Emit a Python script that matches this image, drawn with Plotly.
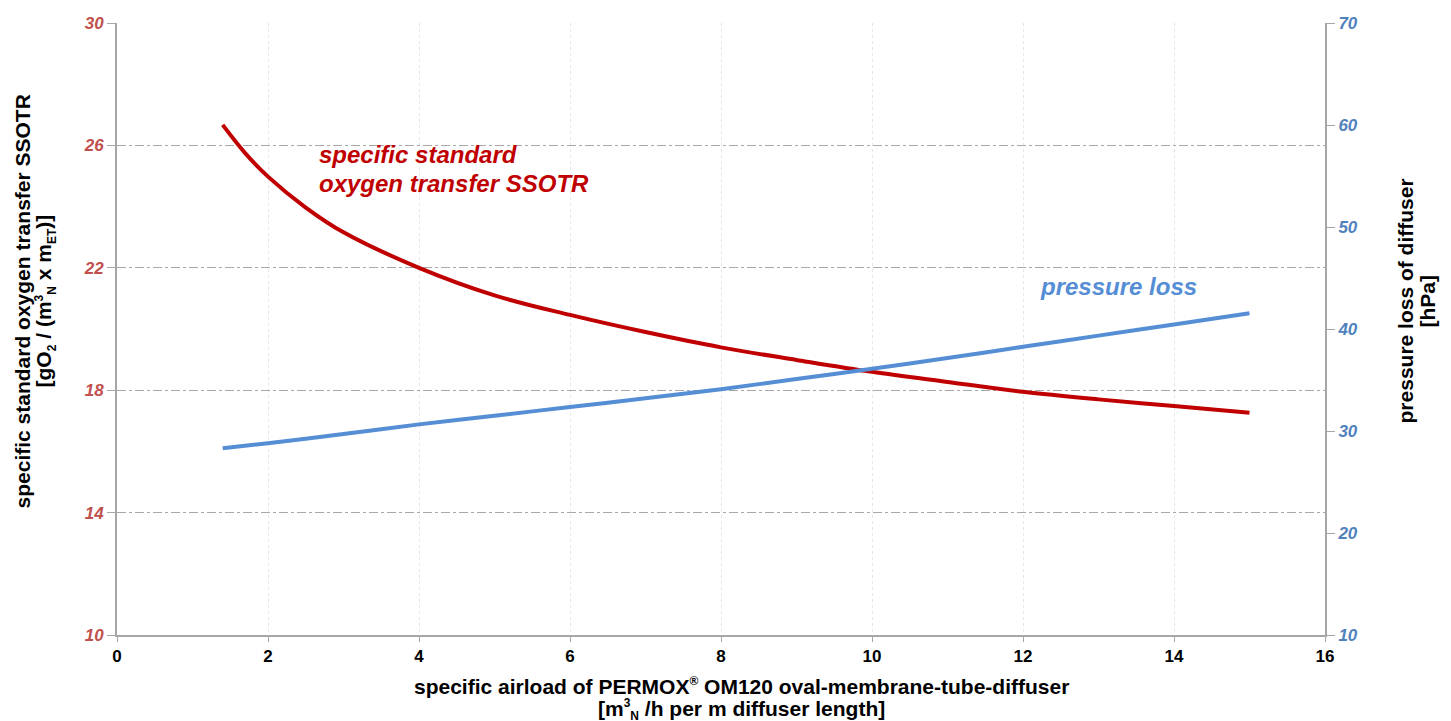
import plotly.graph_objects as go

airload_ssotr = [1.4, 1.7, 2, 2.5, 3, 4, 5, 6, 7, 8, 9, 10, 11, 12, 13, 14, 15]
ssotr = [26.67, 25.74, 24.98, 23.97, 23.16, 22.0, 21.1, 20.46, 19.9, 19.4, 18.99, 18.6, 18.27, 17.95, 17.7, 17.48, 17.26]
airload_dp = [1.4, 2, 3, 4, 5, 6, 7, 8, 9, 10, 11, 12, 13, 14, 15]
pressure = [28.3, 28.8, 29.7, 30.65, 31.5, 32.35, 33.2, 34.1, 35.1, 36.1, 37.15, 38.25, 39.35, 40.45, 41.55]

x_ticks = [0, 2, 4, 6, 8, 10, 12, 14, 16]
left_ticks = [10, 14, 18, 22, 26, 30]
right_ticks = [10, 20, 30, 40, 50, 60, 70]

RED = "#c00000"
BLUE = "#558ed5"
RED_T = "#c0504d"
BLUE_T = "#4f81bd"
AX = "#a6a6a6"
FONT = "Liberation Sans, Arial, sans-serif"
NARROW = "Liberation Sans Narrow, Liberation Sans, Arial, sans-serif"


def small(t):
    return '<span style="font-size:12px">' + t + '</span>'


fig = go.Figure()
fig.add_trace(go.Scatter(x=airload_ssotr, y=ssotr, mode="lines",
                         line=dict(color=RED, width=4, shape="spline", smoothing=1.0),
                         yaxis="y", showlegend=False))
fig.add_trace(go.Scatter(x=airload_dp, y=pressure, mode="lines",
                         line=dict(color=BLUE, width=4, shape="spline", smoothing=0.8),
                         yaxis="y2", showlegend=False))

# in-plot labels
LF = dict(family=FONT, size=24)
fig.add_annotation(x=2.65, y=25.69, xref="x", yref="y", xanchor="left", yanchor="middle",
                   text="<b><i>specific standard</i></b>", showarrow=False,
                   font=dict(LF, color=RED))
fig.add_annotation(x=2.65, y=24.77, xref="x", yref="y", xanchor="left", yanchor="middle",
                   text="<b><i>oxygen transfer SSOTR</i></b>", showarrow=False,
                   font=dict(LF, color=RED))
fig.add_annotation(x=12.2, y=21.40, xref="x", yref="y", xanchor="left", yanchor="middle",
                   text="<b><i>pressure loss</i></b>", showarrow=False,
                   font=dict(LF, color=BLUE))

# axis titles (as annotations for precise placement)
TF = dict(family=FONT, size=21, color="black")
common = dict(xref="paper", yref="paper", xanchor="center", yanchor="middle", showarrow=False, font=TF)
fig.add_annotation(x=0, y=0.545, xshift=-95, textangle=-90,
                   text="<b>specific standard oxygen transfer SSOTR</b>", **common)
fig.add_annotation(x=0, y=0.545, xshift=-72, textangle=-90,
                   text="<b>[gO<sub>" + small("2") + "</sub> / (m<sup>" + small("3") + "</sup><sub>" + small("N")
                        + "</sub> x m<sub>" + small("ET") + "</sub>)]</b>", **common)
fig.add_annotation(x=1, y=0.545, xshift=80, textangle=-90,
                   text="<b>pressure loss of diffuser</b>", **common)
fig.add_annotation(x=1, y=0.545, xshift=102, textangle=-90,
                   text="<b>[hPa]</b>", **common)
fig.add_annotation(x=0.517, y=0, yshift=-51,
                   text="<b>specific airload of PERMOX<sup>" + small("®") + "</sup> OM120 oval-membrane-tube-diffuser</b>", **common)
fig.add_annotation(x=0.517, y=0, yshift=-74,
                   text="<b>[m<sup>" + small("3") + "</sup><sub>" + small("N") + "</sub> /h per m diffuser length]</b>", **common)

fig.update_layout(
    width=1451, height=721,
    margin=dict(l=117, r=126, t=23, b=86),
    plot_bgcolor="white", paper_bgcolor="white",
    font=dict(family=FONT, color="black"),
    xaxis=dict(range=[0, 16], tickvals=x_ticks, ticktext=[str(v) for v in x_ticks], automargin=False,
               showline=True, linecolor=AX, linewidth=2, ticks="outside", ticklen=5, tickcolor=AX,
               showgrid=True, gridcolor="#e6e6e6", gridwidth=1, griddash="dot", zeroline=False,
               tickfont=dict(family=NARROW, size=17, color="black", weight="bold")),
    yaxis=dict(range=[10, 30], tickvals=left_ticks, ticktext=[str(v) for v in left_ticks], automargin=False,
               showline=True, linecolor=AX, linewidth=2, ticks="outside", ticklen=8, tickcolor=AX,
               showgrid=True, gridcolor="#a8a8a8", gridwidth=1, griddash="dashdot", zeroline=False,
               tickfont=dict(family=FONT, size=17, color=RED_T, style="italic", weight="bold")),
    yaxis2=dict(range=[10, 70], tickvals=right_ticks, ticktext=[str(v) for v in right_ticks], automargin=False,
                overlaying="y", side="right",
                showline=True, linecolor=AX, linewidth=2, ticks="outside", ticklen=8, tickcolor=AX,
                showgrid=False, zeroline=False,
                tickfont=dict(family=FONT, size=17, color=BLUE_T, style="italic", weight="bold")),
)

fig.write_html("out.html", config={"displayModeBar": False},
               post_script="document.body.style.margin='0';document.body.style.overflow='hidden';")
